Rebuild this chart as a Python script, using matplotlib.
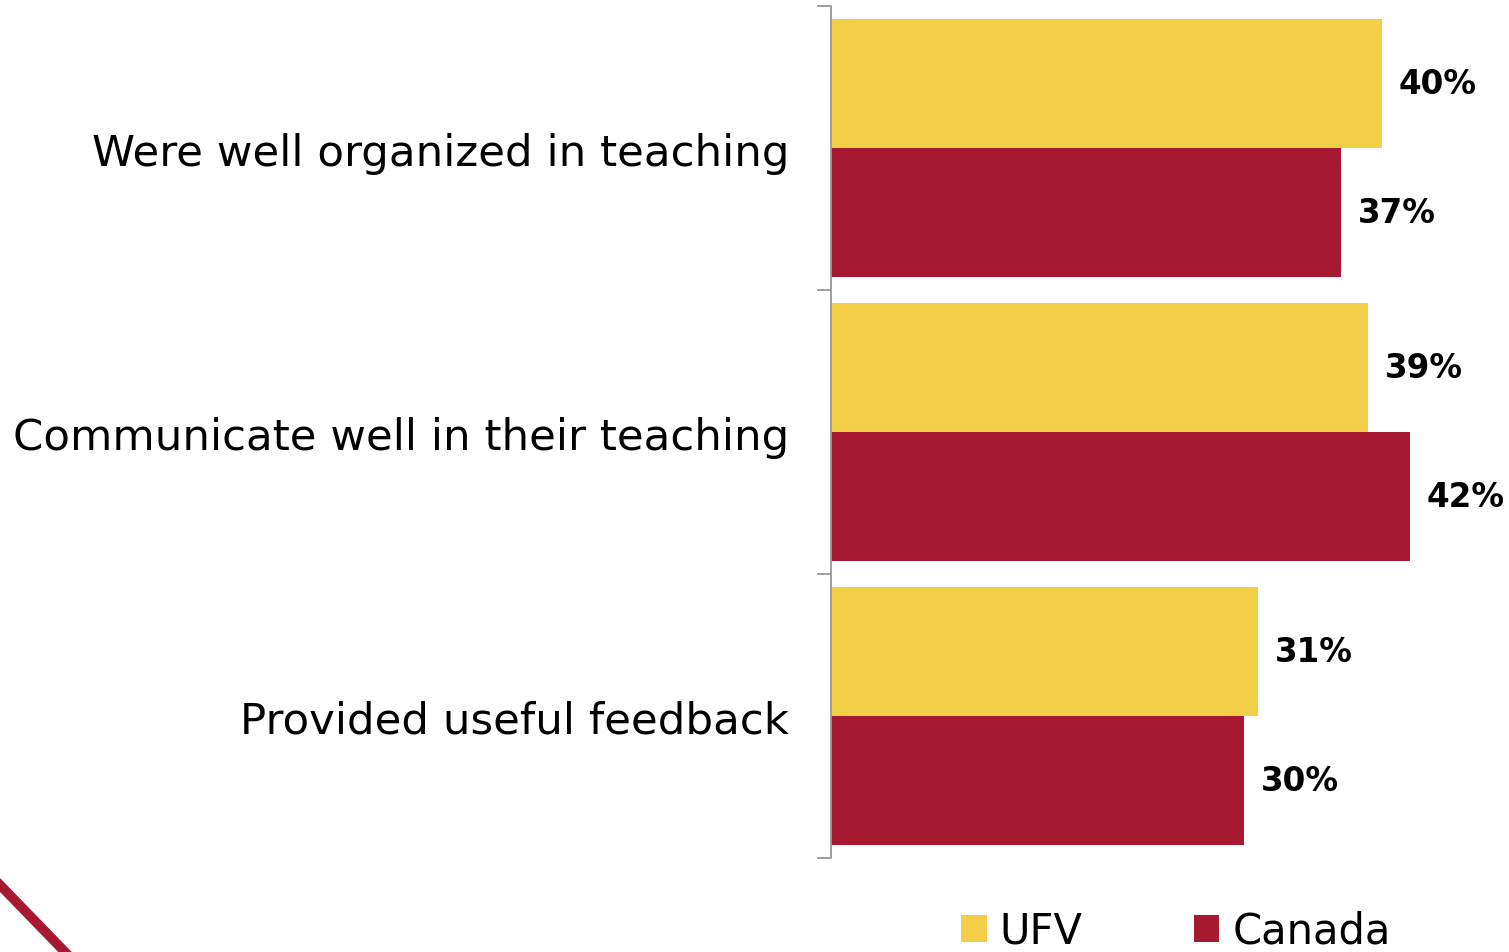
import numpy as np
import matplotlib.pyplot as plt
from matplotlib.lines import Line2D

categories = ["Were well organized in teaching",
              "Communicate well in their teaching",
              "Provided useful feedback"]
ufv = [40, 39, 31]
canada = [37, 42, 30]
series_names = ["UFV", "Canada"]

yellow = "#F2CF47"
red = "#A71930"

fig = plt.figure(figsize=(15.09, 9.53), dpi=100)
ax = fig.add_axes([831 / 1509, 1 - 859 / 953, (1509 - 831) / 1509, 852 / 953])

y = np.arange(len(categories))
h = 0.454
b1 = ax.barh(y - h / 2, ufv, height=h, color=yellow, label=series_names[0])
b2 = ax.barh(y + h / 2, canada, height=h, color=red, label=series_names[1])

for bars, vals in ((b1, ufv), (b2, canada)):
    for bar, v in zip(bars, vals):
        ax.annotate(f"{v}%", (bar.get_width(), bar.get_y() + bar.get_height() / 2),
                    xytext=(12, 0), textcoords="offset points", va="center", ha="left",
                    fontsize=23.5, fontweight="bold", color="black")

ax.set_xlim(0, 49.2)
ax.set_ylim(2.5, -0.5)
ax.set_xticks([])
ax.set_yticks(y)
ax.set_yticklabels(categories, fontsize=31.3)
ax.tick_params(axis="y", length=0, pad=30)
ax.set_yticks([-0.5, 0.5, 1.5, 2.5], minor=True)
ax.tick_params(axis="y", which="minor", length=10, width=1.3, color="#999999")
for s in ["top", "right", "bottom"]:
    ax.spines[s].set_visible(False)
ax.spines["left"].set_color("#999999")
ax.spines["left"].set_linewidth(1.3)

# legend sits at the very bottom edge, partly clipped like the source slide
leg = fig.legend(handles=[b1, b2], labels=series_names, loc="lower left",
                 bbox_to_anchor=(961 / 1509, 0.0), ncol=2, frameon=False,
                 fontsize=30, handlelength=0.62, handleheight=0.62,
                 handletextpad=0.31, columnspacing=2.66,
                 borderpad=0, borderaxespad=0)

fig.add_artist(Line2D([0, 65 / 1509], [1 - 886 / 953, 0], color=red, lw=7,
                      transform=fig.transFigure))

fig.savefig("out.png", dpi=100)
